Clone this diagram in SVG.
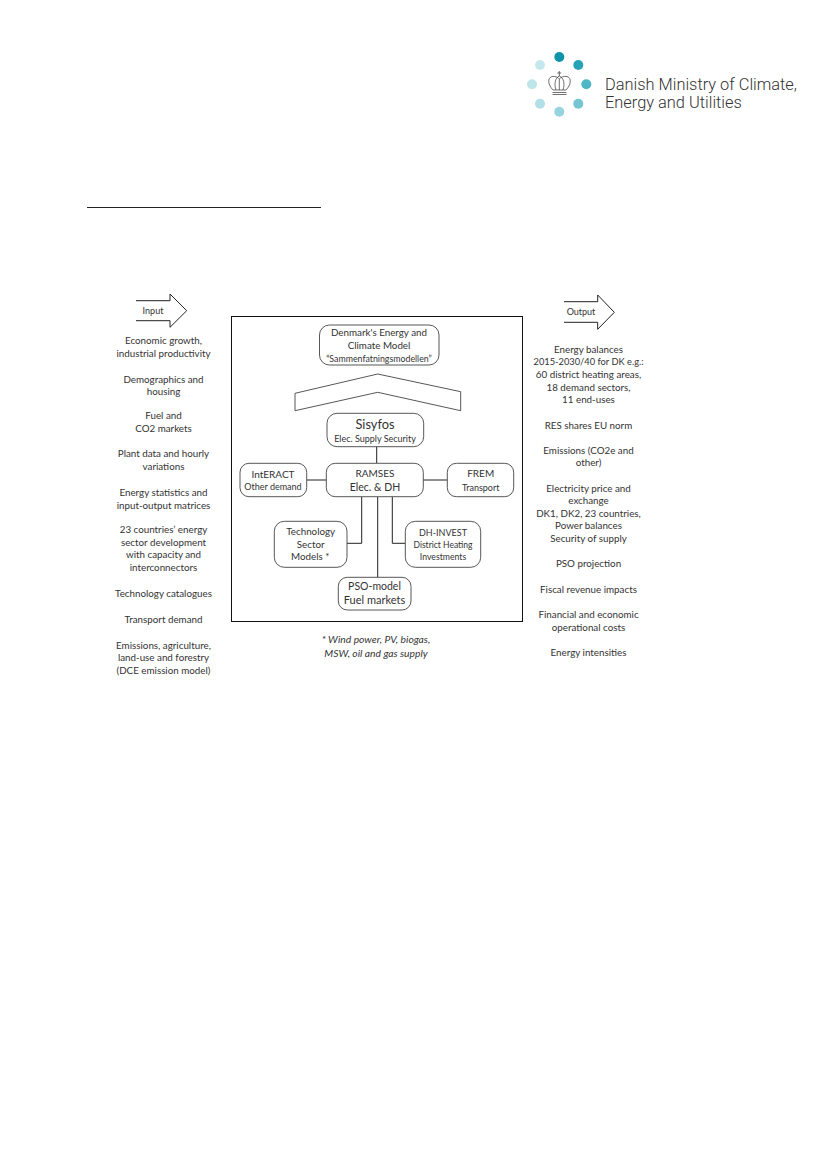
<svg xmlns="http://www.w3.org/2000/svg" width="826" height="1169" viewBox="0 0 826 1169">
<style>
text{font-family:Lato,"Liberation Sans",sans-serif;fill:#333;text-anchor:middle;font-size:9.8px}
.box{fill:#fff;stroke:#444;stroke-width:.9}
.ln{fill:none;stroke:#222;stroke-width:1}
.logo{font-family:Roboto,"Liberation Sans",sans-serif;font-weight:300;font-size:16.4px;text-anchor:start;fill:#333}
.s9{font-size:9px}.s10{font-size:10px}.s105{font-size:10.500px}
.it{font-style:italic;font-size:10.300px}
.cr{fill:none;stroke:#333;stroke-width:.7}
</style>
<rect width="826" height="1169" fill="#fff"/>
<g id="logo">
<circle cx="559.3" cy="57" r="5" fill="#0f93a8"/>
<circle cx="578.3" cy="65" r="5" fill="#27a3b6"/>
<circle cx="586.3" cy="84.3" r="5" fill="#4fb6c5"/>
<circle cx="578.3" cy="103.7" r="5" fill="#75c6d2"/>
<circle cx="559.3" cy="111.7" r="5" fill="#97d4de"/>
<circle cx="540" cy="103.7" r="5" fill="#b0dfe6"/>
<circle cx="532" cy="84.3" r="5" fill="#bee5ea"/>
<circle cx="540" cy="65" r="5" fill="#c6e8ed"/>
<path class="cr" d="M553 90C548 85 547 78 552 76.500C555 76 558 77 559.300 79C561 77 564 76 567 76.500C572 78 571 85 566 90ZM556 90C554 84 555 78 559.300 76C564 78 565 84 563 90M559.300 79V90M552.500 92.500H566.500M552.500 94.500H566.500M559.300 71V76M557.300 73H561.300"/>
<text class="logo" x="605" y="90">Danish Ministry of Climate,</text>
<text class="logo" x="605" y="108">Energy and Utilities</text>
</g>
<g id="heading-rule"><path d="M87 207.500H321" fill="none" stroke="#222" stroke-width="1"/></g>
<g id="frame"><rect x="231.500" y="316.500" width="291" height="305" fill="none" stroke="#111" stroke-width="1"/></g>
<g id="connectors">
<path class="ln" d="M376.700 446.700V463.300M306.700 480H326.300M423.300 480H447.300M361.700 496.700V543.300H347M392.300 496.700V543.300H405.300M377.700 496.700V577.300"/>
</g>
<g id="input-arrow">
<path class="ln" d="M136 300.700H170V294L186.700 310.700L170 327.300V320.700H136"/>
<text x="153" y="314" class="s9">Input</text>
</g>
<g id="output-arrow">
<path class="ln" d="M564 301.700H597.700V295L614.300 312.300L597.700 329.300V322.300H564"/>
<text x="581" y="315" class="s9">Output</text>
</g>
<g id="input-list">
<text x="163.500" y="343.500">Economic growth,</text>
<text x="163.500" y="356.500">industrial productivity</text>
<text x="163.500" y="382.500">Demographics and</text>
<text x="163.500" y="394.500">housing</text>
<text x="163.500" y="418.500">Fuel and</text>
<text x="163.500" y="431.500">CO2 markets</text>
<text x="163.500" y="456.500">Plant data and hourly</text>
<text x="163.500" y="469.500">variations</text>
<text x="163.500" y="495.500">Energy statistics and</text>
<text x="163.500" y="508.500">input-output matrices</text>
<text x="163.500" y="532.500">23 countries’ energy</text>
<text x="163.500" y="545.500">sector development</text>
<text x="163.500" y="557.500">with capacity and</text>
<text x="163.500" y="570.500">interconnectors</text>
<text x="163.500" y="596.500">Technology catalogues</text>
<text x="163.500" y="622.500">Transport demand</text>
<text x="163.500" y="648.500">Emissions, agriculture,</text>
<text x="163.500" y="660.500">land-use and forestry</text>
<text x="163.500" y="673.500">(DCE emission model)</text>
</g>
<g id="output-list">
<text x="588.500" y="352.500">Energy balances</text>
<text x="588.500" y="364.500" style="font-size:9.300px">2015-2030/40 for DK e.g.:</text>
<text x="588.500" y="377.500">60 district heating areas,</text>
<text x="588.500" y="390.500">18 demand sectors,</text>
<text x="588.500" y="402.500">11 end-uses</text>
<text x="588.500" y="428.500">RES shares EU norm</text>
<text x="588.500" y="453.500">Emissions (CO2e and</text>
<text x="588.500" y="465.500">other)</text>
<text x="588.500" y="491.500">Electricity price and</text>
<text x="588.500" y="504">exchange</text>
<text x="588.500" y="517">DK1, DK2, 23 countries,</text>
<text x="588.500" y="529">Power balances</text>
<text x="588.500" y="542">Security of supply</text>
<text x="588.500" y="567">PSO projection</text>
<text x="588.500" y="592.500">Fiscal revenue impacts</text>
<text x="588.500" y="617.500">Financial and economic</text>
<text x="588.500" y="630.500">operational costs</text>
<text x="588.500" y="655.500">Energy intensities</text>
</g>
<g id="node-climate-model">
<rect class="box" x="319.500" y="325" width="119.500" height="40" rx="10"/>
<text x="379" y="336">Denmark's Energy and</text>
<text x="379" y="349">Climate Model</text>
<text x="379" y="361.500" style="font-size:8.800px">“Sammenfatningsmodellen”</text>
</g>
<g id="node-chevron">
<path class="box" d="M295 393.300L377.700 374L460.700 391.700V410.700L377.700 392.300L295 410.700Z"/>
</g>
<g id="node-sisyfos">
<rect class="box" x="327" y="413.300" width="96.700" height="33.400" rx="10"/>
<text x="375" y="428.500" style="font-size:12.800px">Sisyfos</text>
<text x="375" y="442" class="s9">Elec. Supply Security</text>
</g>
<g id="node-interact">
<rect class="box" x="240" y="463.300" width="66.700" height="33.400" rx="9"/>
<text x="273" y="477.500" class="s10">IntERACT</text>
<text x="273" y="490" class="s9">Other demand</text>
</g>
<g id="node-ramses">
<rect class="box" x="326.300" y="463.300" width="97" height="33.400" rx="9"/>
<text x="375" y="477" class="s10">RAMSES</text>
<text x="375" y="491" class="s105">Elec. &amp; DH</text>
</g>
<g id="node-frem">
<rect class="box" x="447.300" y="463.300" width="66.400" height="33.400" rx="9"/>
<text x="480.700" y="477" class="s10">FREM</text>
<text x="480.700" y="491" class="s9">Transport</text>
</g>
<g id="node-technology">
<rect class="box" x="274.300" y="521.300" width="72.700" height="46" rx="10"/>
<text x="310.700" y="535.300">Technology</text>
<text x="310.700" y="547.500">Sector</text>
<text x="310.300" y="560">Models *</text>
</g>
<g id="node-dh-invest">
<rect class="box" x="405.300" y="521.300" width="75.400" height="46" rx="10"/>
<text x="443" y="535.800" class="s9">DH-INVEST</text>
<text x="443" y="548" style="font-size:8.500px">District Heating</text>
<text x="443" y="559.500" style="font-size:8.700px">Investments</text>
</g>
<g id="node-pso">
<rect class="box" x="338.300" y="577.300" width="72.700" height="32.700" rx="9"/>
<text x="374.500" y="589.500" class="s105">PSO-model</text>
<text x="374.500" y="604" style="font-size:11px">Fuel markets</text>
</g>
<g id="footnote">
<text class="it" x="376" y="642.500">* Wind power, PV, biogas,</text>
<text class="it" x="376" y="656.500">MSW, oil and gas supply</text>
</g>
</svg>
